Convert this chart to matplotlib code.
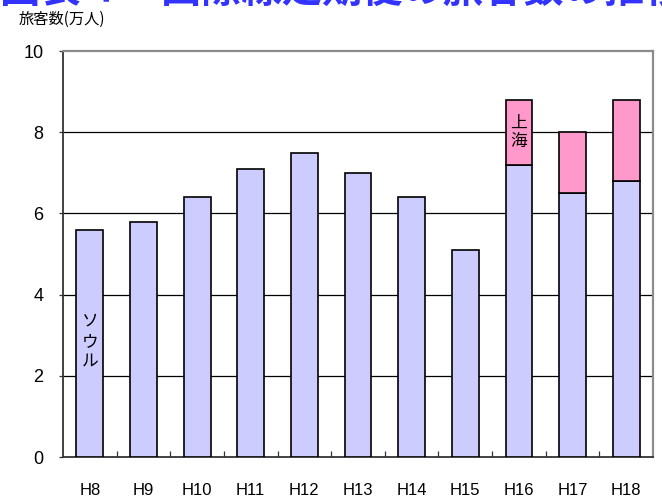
#!/usr/bin/env python3

import matplotlib.pyplot as plt
import numpy as np

plt.rcParams['font.family'] = ['Liberation Sans', 'Noto Sans CJK JP', 'DejaVu Sans']

years    = ['H8', 'H9', 'H10', 'H11', 'H12', 'H13', 'H14', 'H15', 'H16', 'H17', 'H18']
seoul    = [5.6, 5.8, 6.4, 7.1, 7.5, 7.0, 6.4, 5.1, 7.2, 6.5, 6.8]
shanghai = [0, 0, 0, 0, 0, 0, 0, 0, 1.6, 1.5, 2.0]
yticks   = [0, 2, 4, 6, 8, 10]

c_seoul = '#ccccff'
c_sh    = '#ff99cc'

W, H = 662, 499
fig = plt.figure(figsize=(W/100, H/100), dpi=100)
ax = fig.add_axes([63/W, 1 - 457/H, (653-63)/W, (457-51)/H])

x = np.arange(len(years))
ax.bar(x, seoul, width=0.5, color=c_seoul, edgecolor='black', linewidth=1.2, zorder=3)
sh = np.array(shanghai)
m = sh > 0
ax.bar(x[m], sh[m], bottom=np.array(seoul)[m], width=0.5, color=c_sh,
       edgecolor='black', linewidth=1.2, zorder=3)

ax.set_xlim(-0.5, len(years) - 0.5)
ax.set_ylim(0, 10)
ax.set_yticks(yticks)
ax.set_yticklabels([str(v) for v in yticks], fontsize=13)
for v in yticks[1:-1]:
  ax.axhline(v, color='black', lw=0.9, zorder=1)

# category labels, ticks between categories pointing up
ax.set_xticks(x)
ax.set_xticklabels(years, fontsize=12)
ax.tick_params(axis='x', length=0, pad=19)
ax.set_xticks(np.arange(0.5, len(years) - 1, 1), minor=True)
ax.tick_params(axis='x', which='minor', direction='in', length=4, width=0.9, color='#333333')
ax.tick_params(axis='y', direction='out', length=3, width=0.9, color='#333333', pad=11)

for s in ['left', 'bottom']:
  ax.spines[s].set_color('#333333')
  ax.spines[s].set_linewidth(1.3)
for s in ['top', 'right']:
  ax.spines[s].set_color('#8c8c8c')
  ax.spines[s].set_linewidth(1.6)

# series labels inside bars
ax.text(0, 2.85, 'ソ\nウ\nル', ha='center', va='center', fontsize=12,
        family=['Noto Sans CJK JP'], linespacing=1.25, zorder=4)
ax.text(8, seoul[8] + shanghai[8]/2, '上\n海', ha='center', va='center', fontsize=12,
        family=['Noto Sans CJK JP'], linespacing=1.05, zorder=4)

fig.text(19/W, 1 - 19/H, '旅客数(万人)', ha='left', va='center', fontsize=11,
         family=['Noto Sans CJK JP'])

# clipped title at top edge
fig.text(0.0, 1 - 2/H, '図表４　国際線定期便の旅客数の推移', ha='left', va='baseline', fontsize=29,
         color='#3333ff', weight='bold', family=['Noto Sans CJK JP'])

fig.savefig('out.png', dpi=100)
plt.close()
